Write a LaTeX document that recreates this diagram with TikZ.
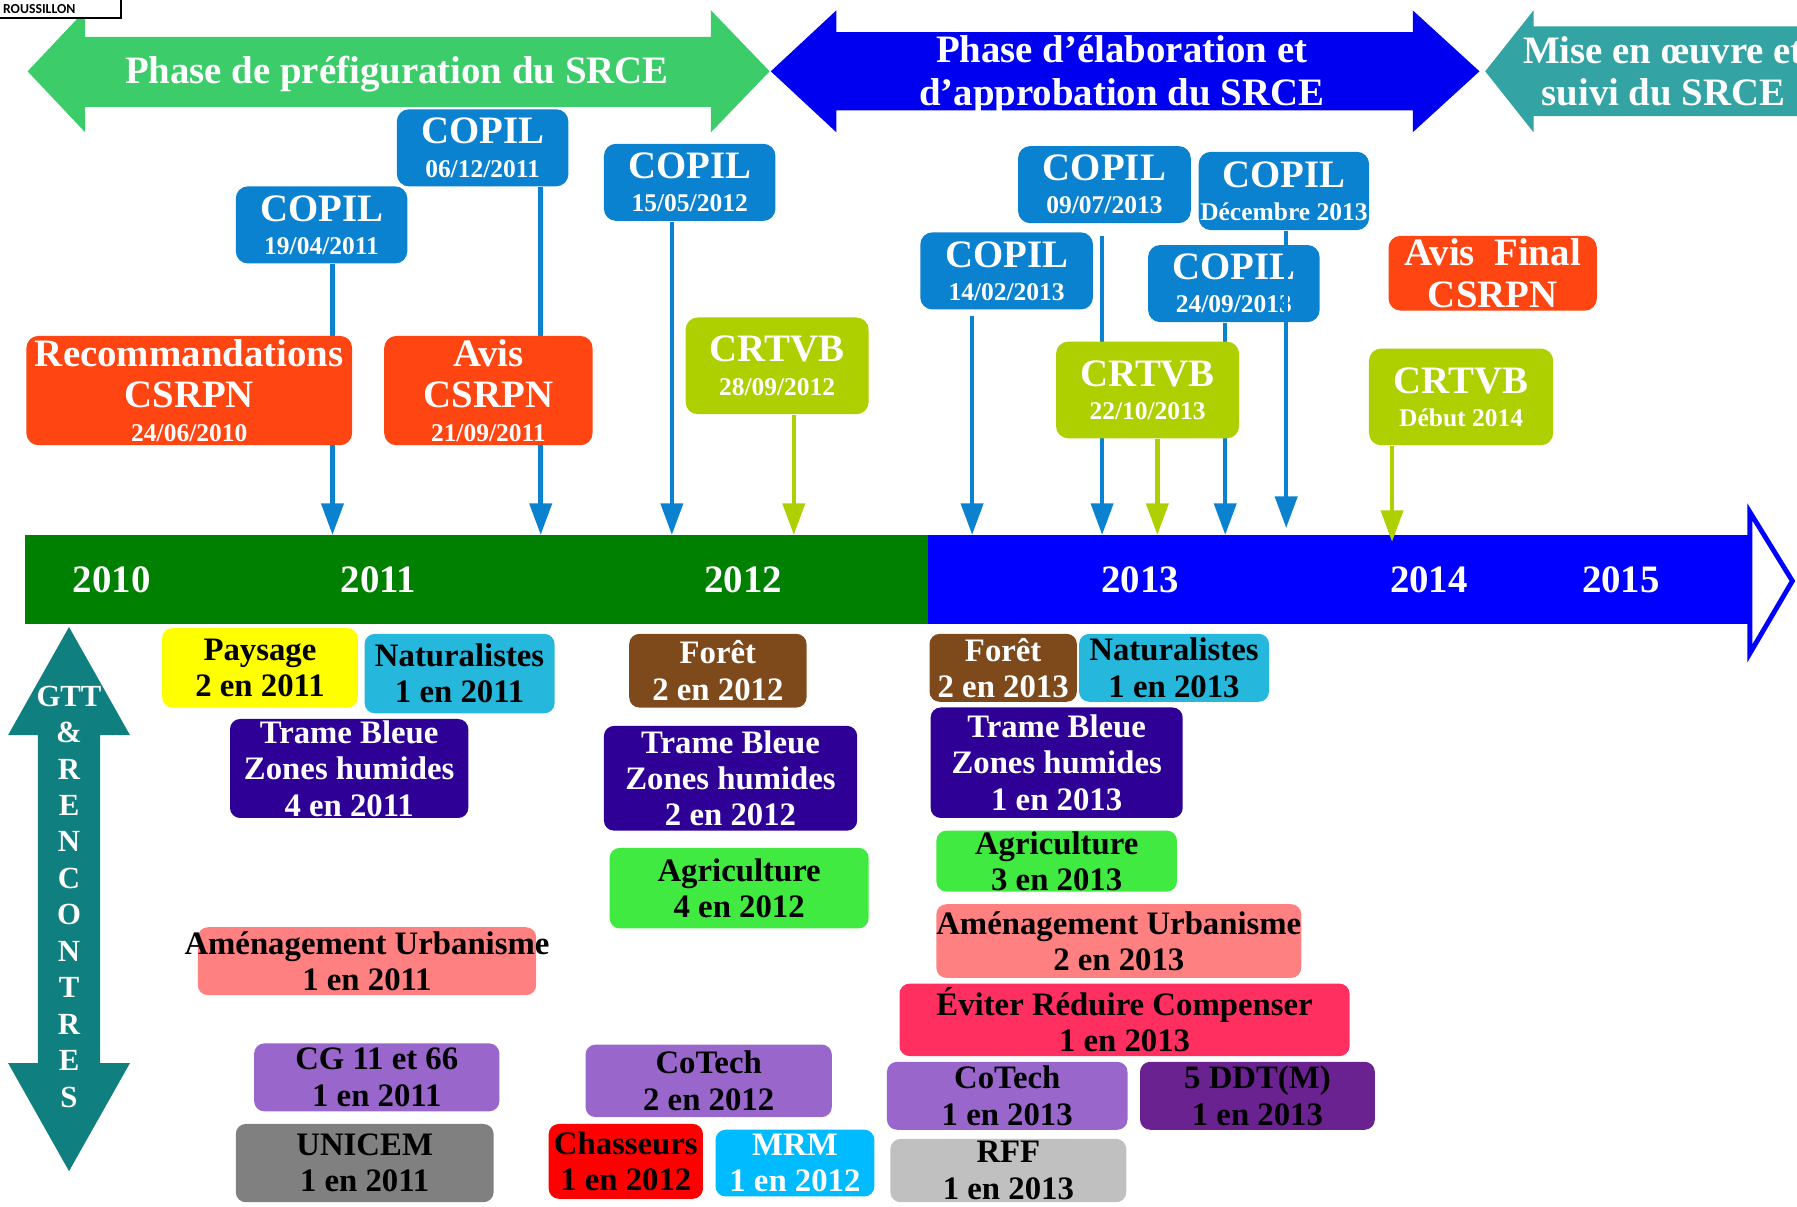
\documentclass[tikz,border=0pt]{standalone}
\usepackage{fontspec}
\setmainfont{Liberation Serif}
\newfontfamily\carlito{Carlito}
\usetikzlibrary{arrows.meta}

\definecolor{phasevert}{HTML}{3CCD6A}
\definecolor{phasebleu}{HTML}{0000F0}
\definecolor{phasesuivi}{HTML}{33A3A3}
\definecolor{copil}{HTML}{0A82D0}
\definecolor{csrpn}{HTML}{FF4512}
\definecolor{crtvb}{HTML}{AECF00}
\definecolor{axevert}{HTML}{008000}
\definecolor{axebleu}{HTML}{0000FF}
\definecolor{gtt}{HTML}{0F7F7F}
\definecolor{paysage}{HTML}{FFFF00}
\definecolor{natur}{HTML}{25B8DC}
\definecolor{trame}{HTML}{2E0096}
\definecolor{amenag}{HTML}{FF8080}
\definecolor{violet}{HTML}{9966CC}
\definecolor{unicem}{HTML}{808080}
\definecolor{foret}{HTML}{7E4A1C}
\definecolor{agri}{HTML}{40EA40}
\definecolor{chasse}{HTML}{FF0000}
\definecolor{mrm}{HTML}{00BBFF}
\definecolor{erc}{HTML}{FF3060}
\definecolor{ddt}{HTML}{6A2290}
\definecolor{rff}{HTML}{C0C0C0}

\newcommand{\fbig}{\fontsize{9.6}{10.2}\selectfont}
\newcommand{\fdate}{\fontsize{6.3}{8}\selectfont}
\newcommand{\fgtt}{\fontsize{8.1}{9}\selectfont}

\tikzset{
  evt/.style={rounded corners=3pt, inner sep=0pt, align=center, text=white, font=\fbig\bfseries},
  gttbox/.style={rounded corners=2.5pt, inner sep=0pt, align=center, font=\fgtt\bfseries},
  down/.style={line width=1.1pt, -{Triangle[length=7.8pt,width=5.4pt]}},
  phase/.style={text=white, align=center, font=\fontsize{9.6}{10.6}\selectfont\bfseries},
  year/.style={text=white, font=\fbig\bfseries},
  letter/.style={text=white, inner sep=0pt, font=\fontsize{7.6}{9}\selectfont\bfseries},
}

\begin{document}
\begin{tikzpicture}[x=0.01cm,y=-0.01cm]
\useasboundingbox (0,0) rectangle (1562,1049);
\clip (0,0) rectangle (1562,1049);

\fill[phasevert] (24,62) -- (74,9) -- (74,32) -- (618,32) -- (618,9) -- (669,62) -- (618,115) -- (618,93) -- (74,93) -- (74,115) -- cycle;
\node[phase] (prefig) at (345,64) {Phase de préfiguration du SRCE};
\fill[phasebleu] (670,62) -- (727,9) -- (727,28) -- (1228,28) -- (1228,9) -- (1286,62) -- (1228,115) -- (1228,96) -- (727,96) -- (727,115) -- cycle;
\node[phase] (elab) at (975,65) {Phase d’élaboration et\\d’approbation du SRCE};
\fill[phasesuivi] (1291,62) -- (1333,9) -- (1333,23) -- (1600,23) -- (1600,101) -- (1333,101) -- (1333,115) -- cycle;
\node[phase] (suivi) at (1446,62) {Mise en œuvre et\\suivi du SRCE};

\draw[line width=0.5pt, fill=white] (-2,-2) rectangle (105,16);
\node[anchor=west, inner sep=0pt, font=\fontsize{3.4}{4}\selectfont\carlito\bfseries] (region) at (2,8) {ROUSSILLON};

\fill[axevert] (22,465) rectangle (807,542);
\fill[axebleu] (807,465) rectangle (1521,542);
\draw[axebleu, line width=1.2pt, fill=white] (1521,445) -- (1558,505) -- (1521,568) -- cycle;
\foreach \an/\x in {2010/97,2011/329,2012/646,2013/991,2014/1242,2015/1409}
  \node[year] (an\an) at (\x,504) {\an};

\node[evt, fill=copil, minimum width=1.49cm, minimum height=0.67cm] (cA) at (279.5,195.5) {COPIL\\[-2pt]{\fdate 19/04/2011}};
\node[evt, fill=copil, minimum width=1.49cm, minimum height=0.67cm] (cB) at (419.5,128.5) {COPIL\\[-2pt]{\fdate 06/12/2011}};
\node[evt, fill=copil, minimum width=1.49cm, minimum height=0.67cm] (cC) at (599.5,158.5) {COPIL\\[-2pt]{\fdate 15/05/2012}};
\node[evt, fill=copil, minimum width=1.50cm, minimum height=0.67cm] (cD) at (875,235.5) {COPIL\\[-2pt]{\fdate 14/02/2013}};
\node[evt, fill=copil, minimum width=1.50cm, minimum height=0.67cm] (cE) at (960,160.5) {COPIL\\[-2pt]{\fdate 09/07/2013}};
\node[evt, fill=copil, minimum width=1.49cm, minimum height=0.67cm] (cG) at (1072.5,246.5) {COPIL\\[-2pt]{\fdate 24/09/2013}};
\node[evt, fill=copil, minimum width=1.48cm, minimum height=0.68cm] (cF) at (1116,166) {COPIL\\[-2pt]{\fdate Décembre 2013}};

\coordinate (pA) at (289,465);
\coordinate (pB) at (470,465);
\coordinate (pC) at (584,465);
\coordinate (pV1) at (690,465);
\coordinate (pD) at (845,465);
\coordinate (pE) at (958,465);
\coordinate (pV2) at (1006,465);
\coordinate (pG) at (1065,465);
\coordinate (pF) at (1118,459);
\coordinate (pV3) at (1210,471);

\draw[down, copil] (cA.south -| pA) -- (pA);
\draw[down, copil] (cB.south -| pB) -- (pB);
\draw[down, copil] (cC.south -| pC) -- (pC);
\draw[down, copil, shorten <=1.5pt] (cD.south -| pD) -- (pD);
\draw[down, copil, shorten <=3pt] (cE.south -| pE) -- (pE);
\draw[down, copil] (cG.south -| pG) -- (pG);
\draw[down, copil] (cF.south -| pF) -- (pF);

\node[evt, fill=csrpn, minimum width=2.83cm, minimum height=0.95cm] (rA) at (164.5,339.5) {Recommandations\\CSRPN\\[-1.9pt]{\fdate 24/06/2010}};
\node[evt, fill=csrpn, minimum width=1.81cm, minimum height=0.95cm] (rB) at (424.5,339.5) {Avis\\CSRPN\\[-1.9pt]{\fdate 21/09/2011}};
\node[evt, fill=csrpn, minimum width=1.81cm, minimum height=0.65cm] (rC) at (1297.5,237.5) {Avis~ Final\\CSRPN};

\node[evt, fill=crtvb, minimum width=1.59cm, minimum height=0.84cm] (vA) at (675.5,318) {CRTVB\\[-2pt]{\fdate 28/09/2012}};
\node[evt, fill=crtvb, minimum width=1.59cm, minimum height=0.84cm] (vB) at (997.5,339) {CRTVB\\[-2pt]{\fdate 22/10/2013}};
\node[evt, fill=crtvb, minimum width=1.60cm, minimum height=0.84cm] (vC) at (1270,345) {CRTVB\\[-2pt]{\fdate Début 2014}};

\draw[down, crtvb] (vA.south -| pV1) -- (pV1);
\draw[down, crtvb] (vB.south -| pV2) -- (pV2);
\draw[down, crtvb] (vC.south -| pV3) -- (pV3);

\fill[gtt] (60,545) -- (113,639) -- (87,639) -- (87,924) -- (113,924) -- (60,1018) -- (7,924) -- (33,924) -- (33,639) -- (7,639) -- cycle;
\foreach \l [count=\i from 0] in {GTT,{\&},R,E,N,C,O,N,T,R,E,S}
  \node[letter] (g\i) at (60,{605+31.7*\i}) {\l};

\node[gttbox, fill=paysage, minimum width=1.70cm, minimum height=0.69cm] (paysage) at (226,580.5) {Paysage\\2 en 2011};
\node[gttbox, fill=natur, minimum width=1.65cm, minimum height=0.69cm] (natA) at (399.5,585.5) {Naturalistes\\1 en 2011};
\node[gttbox, fill=trame, text=white, minimum width=2.07cm, minimum height=0.86cm] (trameA) at (303.5,668) {Trame Bleue\\Zones humides\\4 en 2011};
\node[gttbox, fill=amenag, minimum width=2.94cm, minimum height=0.59cm] (amenA) at (319,835.5) {\makebox[2.8cm]{Aménagement Urbanisme}\\1 en 2011};
\node[gttbox, fill=violet, minimum width=2.13cm, minimum height=0.59cm] (cg) at (327.5,936.5) {CG 11 et 66\\1 en 2011};
\node[gttbox, fill=unicem, minimum width=2.24cm, minimum height=0.68cm] (unicem) at (317,1011) {UNICEM\\1 en 2011};

\node[gttbox, fill=foret, text=white, minimum width=1.54cm, minimum height=0.64cm] (foretA) at (624,583) {Forêt\\2 en 2012};
\node[gttbox, fill=trame, text=white, minimum width=2.20cm, minimum height=0.91cm] (trameB) at (635,676.5) {Trame Bleue\\Zones humides\\2 en 2012};
\node[gttbox, fill=agri, minimum width=2.25cm, minimum height=0.70cm] (agriA) at (642.5,772) {Agriculture\\4 en 2012};
\node[gttbox, fill=violet, minimum width=2.14cm, minimum height=0.63cm] (cotechA) at (616,939.5) {CoTech\\2 en 2012};
\node[gttbox, fill=chasse, minimum width=1.34cm, minimum height=0.65cm] (chasse) at (544,1009.5) {Chasseurs\\1 en 2012};
\node[gttbox, fill=mrm, text=white, minimum width=1.38cm, minimum height=0.58cm] (mrm) at (691,1011) {MRM\\1 en 2012};

\node[gttbox, fill=foret, text=white, minimum width=1.28cm, minimum height=0.59cm] (foretB) at (872,580.5) {Forêt\\2 en 2013};
\node[gttbox, fill=natur, minimum width=1.65cm, minimum height=0.59cm] (natB) at (1020.5,580.5) {Naturalistes\\1 en 2013};
\node[gttbox, fill=trame, text=white, minimum width=2.19cm, minimum height=0.96cm] (trameC) at (918.5,663) {Trame Bleue\\Zones humides\\1 en 2013};
\node[gttbox, fill=agri, minimum width=2.09cm, minimum height=0.53cm] (agriB) at (918.5,748.5) {Agriculture\\3 en 2013};
\node[gttbox, fill=amenag, minimum width=3.17cm, minimum height=0.64cm] (amenB) at (972.5,818) {Aménagement Urbanisme\\2 en 2013};
\node[gttbox, fill=erc, minimum width=3.91cm, minimum height=0.63cm] (erc) at (977.5,886.5) {Éviter Réduire Compenser\\1 en 2013};
\node[gttbox, fill=violet, minimum width=2.09cm, minimum height=0.59cm] (cotechB) at (875.5,952.5) {CoTech\\1 en 2013};
\node[gttbox, fill=ddt, minimum width=2.04cm, minimum height=0.59cm] (ddt) at (1093,952.5) {5 DDT(M)\\1 en 2013};
\node[gttbox, fill=rff, minimum width=2.05cm, minimum height=0.55cm] (rff) at (876.5,1017.5) {RFF\\1 en 2013};
\end{tikzpicture}
\end{document}
